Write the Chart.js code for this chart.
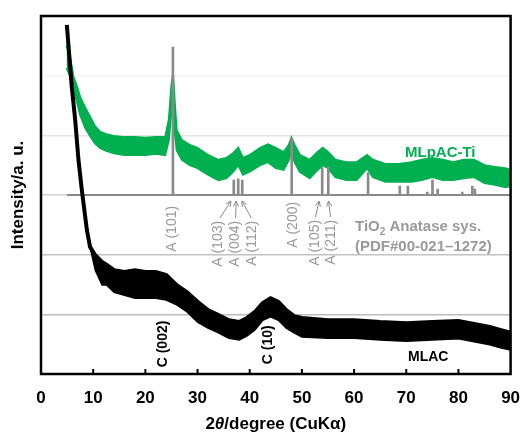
<!DOCTYPE html>
<html>
<head>
<meta charset="utf-8">
<script src="https://cdn.jsdelivr.net/npm/chart.js@4.4.1/dist/chart.umd.min.js"></script>
<style>
  html, body { margin: 0; padding: 0; background: #fff; }
  #wrap { width: 520px; height: 437px; }
</style>
</head>
<body>
<div id="wrap"><canvas id="xrdChart"></canvas></div>
<script>
// 2theta positions (degree) and the upper / lower edge of the noisy MLpAC-Ti trace (a.u.)
const thetaTi = [4.9, 5.5, 6.2, 7, 7.5, 8.5, 9.4, 10.3, 11.3, 12.5, 14, 16, 18, 20, 22, 23.8, 24.5, 25.0, 25.3, 25.6, 26.0, 27, 28.5, 30, 32, 34, 35.5, 36.8, 37.8, 38.7, 40, 42, 43.5, 45, 46.5, 47.5, 48.0, 48.6, 49.6, 51.5, 53, 54, 55, 56.4, 58.5, 60.5, 62.5, 63.6, 66, 68.5, 71, 73, 75, 77, 79, 81, 83, 85, 87, 89, 90];
const mlpacTiHigh = [5.51, 5.35, 4.99, 4.79, 4.64, 4.46, 4.31, 4.16, 4.06, 4.02, 3.99, 3.97, 3.97, 3.96, 3.97, 3.97, 4.26, 4.84, 5.04, 4.59, 4.09, 3.92, 3.84, 3.79, 3.67, 3.59, 3.62, 3.70, 3.79, 3.62, 3.67, 3.79, 3.85, 3.79, 3.72, 3.84, 3.96, 3.84, 3.67, 3.59, 3.72, 3.79, 3.72, 3.59, 3.55, 3.55, 3.67, 3.59, 3.52, 3.52, 3.55, 3.59, 3.62, 3.59, 3.55, 3.59, 3.59, 3.50, 3.47, 3.45, 3.42];
const mlpacTiLow = [5.13, 5.01, 4.79, 4.52, 4.34, 4.12, 3.99, 3.87, 3.79, 3.74, 3.70, 3.67, 3.67, 3.67, 3.69, 3.67, 3.92, 4.42, 4.76, 4.09, 3.75, 3.59, 3.50, 3.45, 3.34, 3.25, 3.28, 3.39, 3.50, 3.34, 3.39, 3.50, 3.55, 3.45, 3.42, 3.59, 3.75, 3.55, 3.39, 3.28, 3.42, 3.50, 3.45, 3.30, 3.25, 3.25, 3.45, 3.30, 3.22, 3.22, 3.22, 3.25, 3.30, 3.25, 3.25, 3.28, 3.30, 3.20, 3.17, 3.13, 3.15];

// 2theta positions and the upper / lower edge of the MLAC trace
const thetaAc = [4.95, 5.9, 6.55, 7.18, 7.83, 8.8, 9.4, 10.4, 11.7, 12.6, 14, 16, 18, 20, 22, 24, 26, 28, 30, 32, 34, 36, 38, 39.5, 41, 42.5, 44, 45.5, 47, 48.5, 50, 55, 60, 65, 70, 75, 80, 83, 86, 88, 90];
const mlacHigh = [5.85, 4.81, 4.26, 3.59, 3.08, 2.41, 2.13, 1.99, 1.88, 1.83, 1.74, 1.71, 1.74, 1.71, 1.71, 1.66, 1.49, 1.37, 1.21, 1.07, 0.99, 0.90, 0.87, 0.94, 1.04, 1.19, 1.27, 1.21, 1.07, 0.97, 0.94, 0.90, 0.90, 0.87, 0.85, 0.87, 0.89, 0.84, 0.79, 0.74, 0.69];
const mlacLow = [5.85, 4.81, 4.26, 3.59, 3.08, 2.41, 2.13, 1.74, 1.49, 1.49, 1.37, 1.32, 1.27, 1.27, 1.27, 1.24, 1.16, 1.04, 0.87, 0.77, 0.69, 0.60, 0.57, 0.64, 0.74, 0.90, 0.96, 0.90, 0.77, 0.69, 0.62, 0.60, 0.60, 0.57, 0.55, 0.57, 0.59, 0.54, 0.49, 0.44, 0.40];

// TiO2 anatase reference lines (PDF#00-021-1272)
const anataseTheta = [25.28, 36.95, 37.80, 38.57, 48.05, 53.89, 55.06, 62.69, 68.76, 70.31, 74.03, 75.03, 76.02, 80.73, 82.66, 83.15];
const anataseTop = [5.48, 3.25, 3.27, 3.25, 3.95, 3.47, 3.47, 3.37, 3.15, 3.15, 3.05, 3.25, 3.10, 3.05, 3.15, 3.10];
const stickBase = 3;

const GREEN = 'rgb(0,176,80)';
const GREY = '#8a8a8a';
const LABEL_GREY = '#9a9a9a';

const pts = (xs, ys) => xs.map((x, i) => ({ x: x, y: ys[i] }));

function vText(ctx, txt, x, yTop, font, color) {
  ctx.save();
  ctx.translate(x, yTop);
  ctx.rotate(-Math.PI / 2);
  ctx.font = font;
  ctx.fillStyle = color;
  ctx.textAlign = 'right';
  ctx.textBaseline = 'middle';
  ctx.fillText(txt, 0, 0);
  ctx.restore();
}

function arrow(ctx, x1, y1, x2, y2) {
  const a = Math.atan2(y2 - y1, x2 - x1);
  ctx.beginPath();
  ctx.moveTo(x1, y1);
  ctx.lineTo(x2, y2);
  ctx.stroke();
  ctx.beginPath();
  ctx.moveTo(x2, y2);
  ctx.lineTo(x2 - 6 * Math.cos(a - 0.45), y2 - 6 * Math.sin(a - 0.45));
  ctx.moveTo(x2, y2);
  ctx.lineTo(x2 - 6 * Math.cos(a + 0.45), y2 - 6 * Math.sin(a + 0.45));
  ctx.stroke();
}

const decorations = {
  id: 'decorations',
  afterDraw(chart) {
    const { ctx, chartArea: ca, scales } = chart;
    const sx = scales.x, sy = scales.y;
    const base = sy.getPixelForValue(stickBase);

    // frame and inward ticks
    ctx.save();
    ctx.strokeStyle = '#000';
    ctx.lineWidth = 2.5;
    ctx.strokeRect(ca.left, ca.top, ca.right - ca.left, ca.bottom - ca.top);
    ctx.lineWidth = 2;
    sx.ticks.forEach(t => {
      if (t.value <= 0 || t.value >= 90) return;
      const px = sx.getPixelForValue(t.value);
      ctx.beginPath();
      ctx.moveTo(px, ca.bottom);
      ctx.lineTo(px, ca.bottom - 5);
      ctx.stroke();
    });
    ctx.restore();

    // peak labels
    const small = '14px "Liberation Sans", sans-serif';
    const bold = 'bold 14px "Liberation Sans", sans-serif';
    vText(ctx, 'A (101) ', sx.getPixelForValue(25.28) - 1, base + 7, small, LABEL_GREY);
    vText(ctx, 'A (103) ', sx.getPixelForValue(34.0), base + 22, small, LABEL_GREY);
    vText(ctx, 'A (004) ', sx.getPixelForValue(37.3), base + 22, small, LABEL_GREY);
    vText(ctx, 'A (112) ', sx.getPixelForValue(40.5), base + 22, small, LABEL_GREY);
    vText(ctx, 'A (200) ', sx.getPixelForValue(48.3), base + 3, small, LABEL_GREY);
    vText(ctx, 'A (105) ', sx.getPixelForValue(52.5), base + 21, small, LABEL_GREY);
    vText(ctx, 'A (211) ', sx.getPixelForValue(55.6), base + 21, small, LABEL_GREY);

    ctx.save();
    ctx.strokeStyle = GREY;
    ctx.lineWidth = 1;
    arrow(ctx, sx.getPixelForValue(34.3), base + 23, sx.getPixelForValue(36.4), base + 6);
    arrow(ctx, sx.getPixelForValue(37.3), base + 23, sx.getPixelForValue(37.4), base + 6);
    arrow(ctx, sx.getPixelForValue(40.3), base + 23, sx.getPixelForValue(38.5), base + 6);
    arrow(ctx, sx.getPixelForValue(52.6), base + 22, sx.getPixelForValue(53.3), base + 6);
    arrow(ctx, sx.getPixelForValue(55.5), base + 22, sx.getPixelForValue(55.1), base + 6);
    ctx.restore();

    // reference card text
    ctx.save();
    ctx.fillStyle = LABEL_GREY;
    ctx.textBaseline = 'middle';
    ctx.textAlign = 'left';
    ctx.font = 'bold 15px "Liberation Sans", sans-serif';
    let x0 = 355, y0 = base + 32;
    ctx.fillText('TiO', x0, y0);
    let w = ctx.measureText('TiO').width;
    ctx.font = 'bold 10px "Liberation Sans", sans-serif';
    ctx.fillText('2', x0 + w, y0 + 5);
    let w2 = ctx.measureText('2').width;
    ctx.font = 'bold 15px "Liberation Sans", sans-serif';
    ctx.fillText(' Anatase sys.', x0 + w + w2, y0);
    ctx.fillText('(PDF#00-021\u20131272)', x0, base + 52);
    ctx.restore();

    // series names
    ctx.save();
    ctx.textBaseline = 'middle';
    ctx.textAlign = 'left';
    ctx.font = 'bold 15px "Liberation Sans", sans-serif';
    ctx.fillStyle = GREEN;
    ctx.fillText('MLpAC-Ti', 405, sy.getPixelForValue(3.7));
    ctx.font = 'bold 14px "Liberation Sans", sans-serif';
    ctx.fillStyle = '#000';
    ctx.fillText('MLAC', 408, sy.getPixelForValue(0.29));
    ctx.restore();

    vText(ctx, 'C (002) ', sx.getPixelForValue(23.5), sy.getPixelForValue(0.96), bold, '#000');
    vText(ctx, 'C (10) ', sx.getPixelForValue(43.6), sy.getPixelForValue(0.88), bold, '#000');

    // axis titles
    ctx.save();
    ctx.fillStyle = '#000';
    ctx.textBaseline = 'middle';
    const parts = [
      ['2', 'bold 17px "Liberation Sans", sans-serif'],
      ['\u03B8', 'bold italic 17px "Liberation Sans", sans-serif'],
      ['/degree (CuK\u03B1)', 'bold 17px "Liberation Sans", sans-serif']
    ];
    let total = 0;
    parts.forEach(p => { ctx.font = p[1]; total += ctx.measureText(p[0]).width; });
    let cx = (ca.left + ca.right) / 2 - total / 2;
    ctx.textAlign = 'left';
    parts.forEach(p => { ctx.font = p[1]; ctx.fillText(p[0], cx, 424); cx += ctx.measureText(p[0]).width; });

    ctx.translate(18, (ca.top + ca.bottom) / 2);
    ctx.rotate(-Math.PI / 2);
    ctx.textAlign = 'center';
    ctx.font = 'bold 17px "Liberation Sans", sans-serif';
    ctx.fillText('Intensity/a. u.', 0, 0);
    ctx.restore();
  }
};

const gridShade = { 1: '#bdbdbd', 2: '#c2c2c2', 3: '#d0d0d0', 4: '#e4e4e4', 5: '#f2f2f2' };

new Chart('xrdChart', {
  type: 'line',
  data: {
    datasets: [
      { data: pts(thetaAc, mlacHigh), borderColor: '#000', backgroundColor: '#000', borderWidth: 4, fill: '+1', order: 0 },
      { data: pts(thetaAc, mlacLow), borderColor: '#000', borderWidth: 1.5, fill: false, order: 1 },
      {
        type: 'bar',
        data: anataseTheta.map((t, i) => ({ x: t, y: [stickBase, anataseTop[i]] })),
        backgroundColor: GREY, barThickness: 2, grouped: false, order: 2
      },
      { data: [{ x: 5, y: stickBase }, { x: 90, y: stickBase }], borderColor: GREY, borderWidth: 2, fill: false, order: 3 },
      { data: pts(thetaTi, mlpacTiHigh), borderColor: GREEN, backgroundColor: GREEN, borderWidth: 2, fill: '+1', order: 4 },
      { data: pts(thetaTi, mlpacTiLow), borderColor: GREEN, borderWidth: 2, fill: false, order: 5 }
    ]
  },
  options: {
    responsive: true,
    maintainAspectRatio: false,
    animation: false,
    layout: { padding: { left: 0, top: 16, right: 9.4, bottom: 0 } },
    elements: { point: { radius: 0 }, line: { tension: 0 } },
    plugins: { legend: { display: false }, tooltip: { enabled: false } },
    scales: {
      x: {
        type: 'linear', min: 0, max: 90, offset: false,
        ticks: { stepSize: 10, color: '#000', padding: 14, maxRotation: 0,
                 font: { family: '"Liberation Sans", sans-serif', size: 17, weight: 'bold' } },
        grid: { display: false, drawTicks: false },
        border: { display: false },
        afterFit: s => { s.height = 63; s.paddingRight = 0; s.paddingLeft = 0; }
      },
      y: {
        min: 0, max: 6,
        ticks: { stepSize: 1, display: false },
        grid: { drawTicks: false, lineWidth: 1.5, color: c => gridShade[c.tick.value] || 'rgba(0,0,0,0)' },
        border: { display: false },
        afterFit: s => { s.width = 41; }
      }
    }
  },
  plugins: [decorations]
});
</script>
</body>
</html>
